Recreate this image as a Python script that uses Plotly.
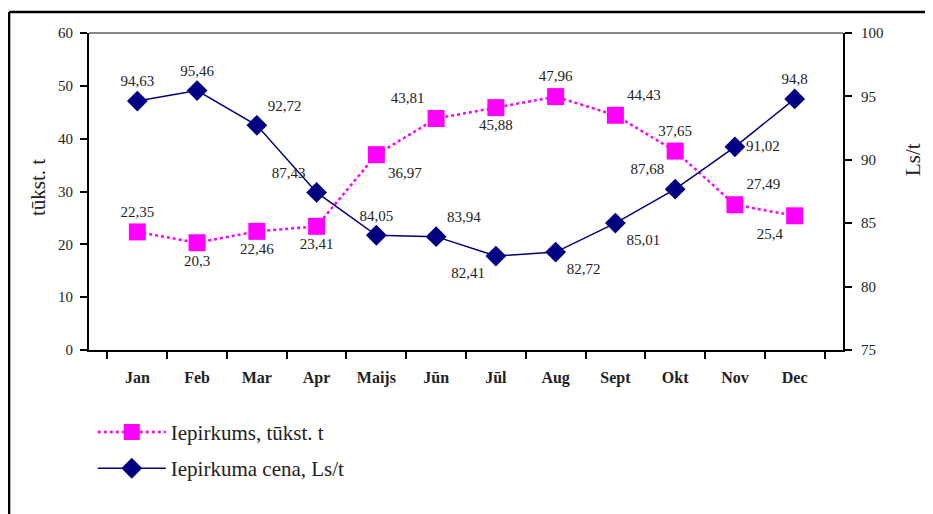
import plotly.graph_objects as go

months = ["Jan", "Feb", "Mar", "Apr", "Maijs", "Jūn", "Jūl", "Aug", "Sept", "Okt", "Nov", "Dec"]
iepirkums = [22.35, 20.3, 22.46, 23.41, 36.97, 43.81, 45.88, 47.96, 44.43, 37.65, 27.49, 25.4]
cena = [94.63, 95.46, 92.72, 87.43, 84.05, 83.94, 82.41, 82.72, 85.01, 87.68, 91.02, 94.8]
left_ticks = [0, 10, 20, 30, 40, 50, 60]
right_ticks = [75, 80, 85, 90, 95, 100]

pink_pos = ["top center", "bottom center", "bottom center", "bottom center", "bottom right", "top left",
            "bottom center", "top center", "top right", "top center", "top right", "bottom left"]
navy_pos = ["top center", "top center", "top right", "top left", "top center", "top right",
            "bottom left", "bottom right", "bottom right", "top left", "middle right", "top center"]


def fmt(v):
    return f"{v:g}".replace(".", ",")


FONT = "Liberation Serif, Times New Roman, serif"

fig = go.Figure()
fig.add_trace(go.Scatter(
    x=months, y=iepirkums, name="Iepirkums, tūkst. t", yaxis="y",
    mode="lines+markers+text",
    line=dict(color="#FF00FF", width=2.5, dash="dot"),
    marker=dict(symbol="square", size=17, color="#FF00FF"),
    text=[fmt(v) for v in iepirkums], textposition=pink_pos,
    textfont=dict(family=FONT, size=15, color="#222"),
    legendgroup="a", cliponaxis=False,
))
fig.add_trace(go.Scatter(
    x=months, y=cena, name="Iepirkuma cena, Ls/t", yaxis="y2",
    mode="lines+markers+text",
    line=dict(color="#000080", width=1.5),
    marker=dict(symbol="diamond", size=16, color="#000080"),
    text=[fmt(v) for v in cena], textposition=navy_pos,
    textfont=dict(family=FONT, size=15, color="#222"),
    legendgroup="b", cliponaxis=False,
))

axis_common = dict(showline=True, linecolor="black", linewidth=2, ticks="outside",
                   ticklen=7, tickwidth=2, tickcolor="black", showgrid=False, zeroline=False,
                   automargin=False)
tick_font = dict(family=FONT, size=15, color="#222")

fig.update_layout(
    width=933, height=514,
    margin=dict(l=81, r=98, t=25, b=172),
    plot_bgcolor="white", paper_bgcolor="white",
    font=dict(family=FONT, color="#222"),
    xaxis=dict(**axis_common, tickson="boundaries",
               tickfont=dict(family=FONT, size=16, color="#222", weight="bold"),
               ticklabelstandoff=12),
    yaxis=dict(**axis_common, range=[0, 60], tickvals=left_ticks, tickfont=tick_font,
               ticklabelstandoff=4),
    yaxis2=dict(**axis_common, range=[75, 100], tickvals=right_ticks, overlaying="y", side="right",
                tickfont=tick_font, ticklabelstandoff=6),
    showlegend=True,
    legend=dict(x=0.005, y=-0.195, xanchor="left", yanchor="top",
                font=dict(family=FONT, size=21, color="#222"),
                itemwidth=68, tracegroupgap=6, traceorder="grouped",
                bgcolor="rgba(0,0,0,0)"),
    annotations=[
        dict(text="tūkst. t", xref="paper", yref="paper", x=(38 - 89) / 754, y=(350 - 188) / 317,
             xanchor="center", yanchor="middle",
             textangle=-90, showarrow=False, font=dict(family=FONT, size=21, color="#222")),
        dict(text="Ls/t", xref="paper", yref="paper", x=(913 - 89) / 754, y=(350 - 160) / 317,
             xanchor="center", yanchor="middle",
             textangle=-90, showarrow=False, font=dict(family=FONT, size=21, color="#222")),
    ],
    shapes=[
        dict(type="line", xref="paper", yref="paper", x0=0, x1=1, y0=1, y1=1,
             line=dict(color="#888", width=2)),
        dict(type="line", xref="paper", yref="paper", x0=-0.106, x1=1.2, y0=1.066, y1=1.066,
             line=dict(color="black", width=2.5)),
        dict(type="line", xref="paper", yref="paper", x0=-0.106, x1=-0.106, y0=1.066, y1=-0.6,
             line=dict(color="black", width=2.5)),
    ],
)

fig.write_html("out.html")
